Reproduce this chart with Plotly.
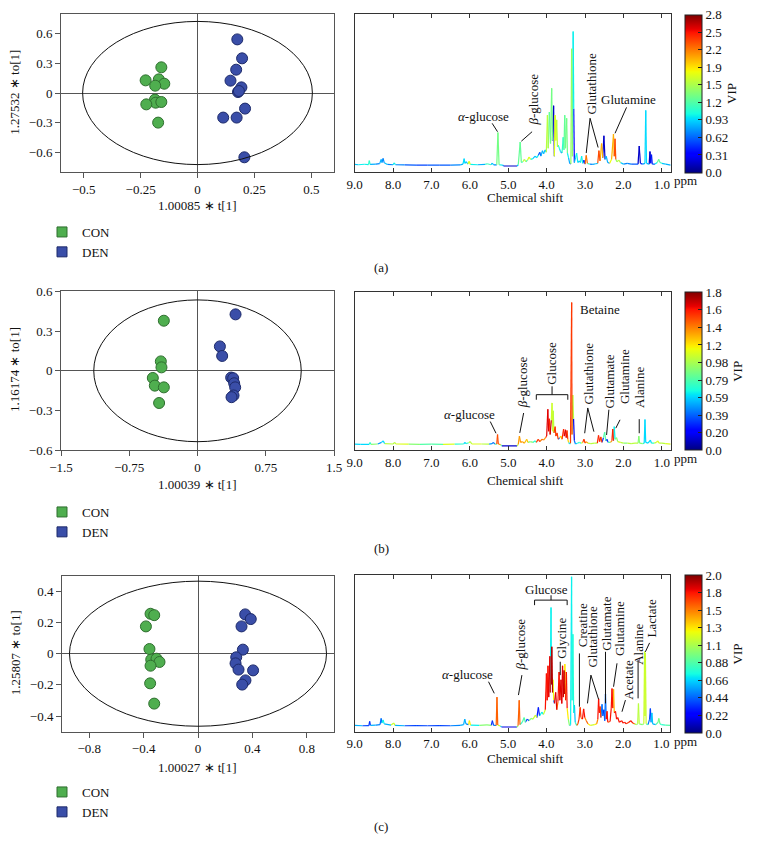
import numpy as np
import plotly.graph_objects as go
from plotly.colors import sample_colorscale

# the page body adds an 8 px margin, so the figure is 8 px smaller and positions are shifted
OFF = 8
W, H = 760 - OFF, 855 - OFF
FONT = "Liberation Serif"
FS = 13


def fx(px):
    return (px - OFF) / W


def fy(py):
    return 1 - (py - OFF) / H


# ---------------- score plot data ----------------
a_con_x = [-0.159, -0.228, -0.170, -0.146, -0.186, -0.187, -0.184, -0.159, -0.225, -0.173]
a_con_y = [0.26, 0.128, 0.138, 0.094, 0.074, -0.067, -0.098, -0.091, -0.115, -0.30]
a_den_x = [0.175, 0.196, 0.170, 0.145, 0.193, 0.178, 0.182, 0.209, 0.113, 0.172, 0.206]
a_den_y = [0.543, 0.351, 0.236, 0.125, 0.057, 0.010, 0.020, -0.158, -0.249, -0.249, -0.651]

b_con_x = [-0.370, -0.403, -0.396, -0.491, -0.469, -0.370, -0.422]
b_con_y = [0.378, 0.071, 0.026, -0.054, -0.112, -0.125, -0.243]
b_den_x = [0.418, 0.246, 0.271, 0.370, 0.392, 0.403, 0.414, 0.396, 0.374]
b_den_y = [0.426, 0.184, 0.112, -0.051, -0.056, -0.094, -0.125, -0.186, -0.199]

c_con_x = [-0.349, -0.322, -0.383, -0.357, -0.344, -0.305, -0.283, -0.349, -0.352, -0.322]
c_con_y = [0.256, 0.247, 0.175, 0.030, -0.038, -0.032, -0.053, -0.077, -0.190, -0.320]
c_den_x = [0.347, 0.388, 0.320, 0.330, 0.281, 0.276, 0.298, 0.405, 0.349, 0.325]
c_den_y = [0.252, 0.222, 0.175, 0.026, -0.023, -0.062, -0.102, -0.107, -0.171, -0.198]

# Hotelling ellipse half-axes (t[1], to[1])
ellipse_a = [0.505, 0.725]
ellipse_b = [1.14, 0.535]
ellipse_c = [0.945, 0.465]

a_xticks = [-0.5, -0.25, 0, 0.25, 0.5]
a_xtext = ["\u22120.5", "\u22120.25", "0", "0.25", "0.5"]
a_yticks = [-0.6, -0.3, 0, 0.3, 0.6]
a_ytext = ["\u22120.6", "\u22120.3", "0", "0.3", "0.6"]
b_xticks = [-1.5, -0.75, 0, 0.75, 1.5]
b_xtext = ["\u22121.5", "\u22120.75", "0", "0.75", "1.5"]
b_yticks = [-0.6, -0.3, 0, 0.3, 0.6]
b_ytext = ["\u22120.6", "\u22120.3", "0", "0.3", "0.6"]
c_xticks = [-0.8, -0.4, 0, 0.4, 0.8]
c_xtext = ["\u22120.8", "\u22120.4", "0", "0.4", "0.8"]
c_yticks = [-0.4, -0.2, 0, 0.2, 0.4]
c_ytext = ["\u22120.4", "\u22120.2", "0", "0.2", "0.4"]

# ---------------- loading spectra (ppm, intensity, VIP) ----------------
a_ppm = [9.00, 8.90, 8.75, 8.64, 8.62, 8.60, 8.45, 8.35, 8.31, 8.29, 8.26, 8.23, 8.15, 8.00, 7.97, 7.94,
         7.70, 7.40, 7.10, 6.80, 6.50, 6.25, 6.18, 6.15, 6.13, 6.10, 6.05, 6.02, 5.99, 5.80, 5.60, 5.55,
         5.45, 5.42, 5.38, 5.30, 5.27, 5.24, 5.15, 5.12, 4.77, 4.74, 4.69, 4.66, 4.62, 4.58, 4.54, 4.50,
         4.46, 4.42, 4.36, 4.30, 4.26, 4.22, 4.18, 4.15, 4.11, 4.08, 4.04, 4.01, 3.98, 3.96, 3.93, 3.90,
         3.87, 3.85, 3.82, 3.80, 3.78, 3.76, 3.74, 3.72, 3.70, 3.67, 3.64, 3.60, 3.57, 3.55, 3.53, 3.51,
         3.48, 3.46, 3.43, 3.40, 3.37, 3.35, 3.33, 3.31, 3.295, 3.28, 3.25, 3.22, 3.19, 3.15, 3.12, 3.09,
         3.06, 3.03, 3.00, 2.97, 2.94, 2.88, 2.80, 2.72, 2.67, 2.64, 2.61, 2.57, 2.54, 2.51, 2.48, 2.45,
         2.41, 2.36, 2.31, 2.26, 2.24, 2.22, 2.20, 2.17, 2.12, 2.08, 2.00, 1.90, 1.80, 1.70, 1.62, 1.59,
         1.56, 1.50, 1.44, 1.42, 1.40, 1.33, 1.31, 1.29, 1.27, 1.25, 1.18, 1.12, 1.08, 1.05, 1.00, 0.90,
         0.77]
a_int = [4.8, 4.6, 4.9, 4.7, 7.2, 4.8, 5.0, 5.3, 8.0, 6.0, 8.6, 5.8, 4.8, 4.6, 5.8, 4.6,
         4.5, 4.4, 4.4, 4.3, 4.4, 4.5, 5.0, 8.5, 5.5, 6.5, 5.0, 6.8, 4.8, 4.6, 4.8, 5.2,
         4.6, 5.6, 4.5, 4.5, 25.0, 4.6, 4.4, 3.8, 3.8, 4.6, 19.0, 6.0, 6.5, 8.0, 6.5, 7.5,
         9.5, 8.0, 8.5, 10.0, 9.0, 10.5, 12.5, 10.0, 13.5, 11.5, 14.0, 12.5, 36.0, 15.0, 38.0, 18.0,
         53.0, 20.0, 42.0, 10.0, 36.0, 20.0, 33.0, 16.0, 17.0, 15.0, 13.0, 12.0, 22.0, 14.0, 36.0, 15.0,
         34.0, 12.0, 9.0, 5.5, 5.0, 78.0, 10.0, 89.0, 40.0, 6.0, 9.0, 12.0, 6.0, 7.0, 6.0, 10.0,
         5.5, 7.5, 5.0, 10.5, 5.5, 5.0, 4.8, 5.2, 5.5, 13.5, 7.0, 18.0, 9.0, 23.0, 8.0, 10.0,
         6.0, 5.5, 8.0, 24.0, 10.0, 21.0, 8.0, 6.5, 7.5, 6.0, 5.0, 5.5, 5.0, 5.0, 5.0, 16.5,
         5.5, 5.0, 5.5, 39.0, 5.5, 5.0, 13.0, 5.5, 11.0, 5.0, 5.0, 6.0, 8.0, 6.0, 5.5, 5.0,
         4.4]
a_vip = [0.9, 0.8, 1.0, 0.9, 1.1, 0.9, 0.8, 0.7, 0.8, 0.9, 0.7, 0.9, 0.7, 0.7, 1.0, 0.7,
         0.6, 0.55, 0.6, 0.55, 0.6, 0.7, 0.8, 0.95, 0.8, 0.9, 0.8, 1.7, 1.0, 0.7, 0.8, 1.2,
         0.7, 0.9, 0.7, 0.9, 1.35, 1.0, 0.7, 0.15, 0.15, 0.9, 1.3, 1.0, 1.1, 1.6, 1.0, 1.2,
         1.7, 1.1, 1.0, 0.9, 1.2, 1.0, 0.6, 1.3, 0.8, 1.0, 0.9, 1.5, 1.6, 1.2, 1.3, 1.0,
         1.35, 1.2, 0.15, 0.2, 1.7, 1.5, 1.6, 1.0, 1.1, 1.0, 0.7, 1.0, 1.1, 1.0, 1.3, 1.1,
         1.35, 1.0, 0.8, 0.5, 0.6, 1.45, 1.0, 1.0, 0.3, 0.6, 0.9, 1.0, 0.8, 0.9, 0.7, 1.0,
         0.8, 0.5, 0.6, 2.2, 1.2, 0.7, 0.7, 0.8, 0.9, 2.3, 1.0, 2.0, 0.9, 0.2, 0.5, 0.8,
         0.7, 0.8, 1.8, 2.0, 1.9, 2.3, 1.5, 1.0, 1.6, 0.9, 0.7, 0.7, 0.6, 0.6, 0.6, 0.15,
         0.5, 0.7, 0.8, 0.95, 0.8, 0.6, 0.2, 0.5, 0.4, 0.6, 0.8, 1.0, 1.3, 1.1, 0.9, 0.8,
         0.9]

b_ppm = [9.00, 8.85, 8.62, 8.60, 8.58, 8.40, 8.30, 8.26, 8.22, 8.00, 7.96, 7.93, 7.60, 7.30, 7.00, 6.70,
         6.40, 6.16, 6.13, 6.10, 6.03, 5.99, 5.95, 5.70, 5.50, 5.42, 5.39, 5.35, 5.30, 5.28, 5.26, 5.20,
         5.17, 4.77, 4.74, 4.71, 4.68, 4.63, 4.58, 4.52, 4.49, 4.42, 4.36, 4.30, 4.27, 4.22, 4.18, 4.12,
         4.08, 4.03, 4.00, 3.97, 3.95, 3.93, 3.91, 3.88, 3.86, 3.84, 3.83, 3.81, 3.78, 3.76, 3.73, 3.70,
         3.66, 3.63, 3.60, 3.56, 3.54, 3.51, 3.49, 3.47, 3.45, 3.43, 3.40, 3.38, 3.35, 3.34, 3.32, 3.30,
         3.28, 3.25, 3.20, 3.15, 3.10, 3.06, 3.03, 3.00, 2.97, 2.93, 2.85, 2.75, 2.68, 2.65, 2.62, 2.59,
         2.56, 2.52, 2.49, 2.46, 2.43, 2.40, 2.34, 2.30, 2.28, 2.26, 2.24, 2.22, 2.18, 2.15, 2.08, 2.00,
         1.90, 1.80, 1.70, 1.62, 1.60, 1.58, 1.50, 1.46, 1.44, 1.42, 1.36, 1.30, 1.27, 1.20, 1.14, 1.11,
         1.07, 1.00, 0.90, 0.77]
b_int = [3.9, 3.7, 3.8, 5.0, 3.8, 4.0, 5.0, 6.0, 4.2, 4.0, 5.0, 4.0, 3.9, 3.8, 3.9, 3.8,
         3.9, 4.0, 5.0, 4.2, 4.8, 5.5, 4.0, 4.0, 3.9, 4.2, 5.0, 3.9, 3.9, 10.0, 4.0, 3.6,
         2.8, 2.8, 3.8, 9.0, 5.0, 5.5, 4.5, 7.0, 5.0, 5.5, 5.0, 6.0, 5.0, 7.0, 5.5, 7.0,
         6.5, 8.0, 9.0, 26.0, 12.0, 20.0, 10.0, 19.0, 30.0, 12.0, 25.0, 11.0, 15.0, 9.0, 11.0, 7.0,
         8.0, 9.0, 7.0, 13.5, 9.0, 13.0, 8.0, 12.5, 7.0, 5.0, 4.0, 4.5, 93.5, 10.0, 35.0, 20.0,
         6.0, 4.0, 4.5, 5.0, 4.5, 5.0, 7.0, 4.5, 5.5, 4.5, 4.2, 4.5, 4.5, 9.5, 5.5, 8.5,
         5.0, 8.0, 11.5, 6.0, 7.0, 5.0, 5.0, 6.0, 13.5, 6.0, 15.0, 7.0, 8.0, 5.5, 5.0, 4.5,
         4.5, 4.2, 4.5, 4.5, 9.0, 4.5, 4.2, 4.5, 19.5, 5.0, 4.5, 6.5, 4.5, 4.5, 5.0, 6.0,
         4.5, 4.5, 4.2, 3.9]
b_vip = [0.6, 0.9, 0.6, 0.7, 1.0, 0.9, 0.5, 0.6, 1.0, 0.9, 1.0, 1.1, 0.9, 1.1, 0.8, 1.0,
         1.1, 0.7, 0.6, 0.8, 0.7, 1.0, 1.1, 1.0, 0.9, 0.5, 0.4, 0.8, 1.2, 1.45, 1.3, 0.8,
         0.1, 0.1, 1.0, 1.3, 1.2, 1.3, 1.1, 1.25, 1.0, 0.9, 1.1, 0.7, 0.4, 1.5, 1.2, 1.4,
         0.5, 1.3, 1.5, 1.6, 1.5, 1.55, 1.4, 1.65, 1.05, 1.0, 1.0, 0.6, 1.5, 1.3, 1.5, 1.1,
         0.4, 1.2, 0.5, 1.55, 1.4, 1.6, 1.5, 1.5, 1.2, 0.6, 0.3, 0.7, 1.5, 1.2, 1.0, 0.15,
         0.4, 0.5, 0.6, 0.7, 0.9, 1.1, 1.5, 1.0, 1.3, 1.0, 0.9, 1.0, 1.1, 1.55, 1.4, 1.5,
         1.0, 0.3, 0.8, 0.4, 0.3, 0.8, 1.0, 1.3, 1.55, 1.2, 0.65, 0.8, 0.9, 1.1, 1.0, 0.9,
         1.0, 0.8, 1.0, 0.9, 0.9, 0.9, 0.8, 0.7, 0.6, 0.6, 0.8, 0.6, 0.7, 0.9, 1.0, 1.1,
         1.0, 1.0, 1.1, 1.0]

c_ppm = [9.00, 8.80, 8.63, 8.61, 8.59, 8.45, 8.34, 8.31, 8.29, 8.26, 8.23, 8.05, 7.98, 7.95, 7.70, 7.40,
         7.10, 6.80, 6.50, 6.25, 6.16, 6.13, 6.10, 6.03, 6.01, 5.98, 5.75, 5.55, 5.44, 5.41, 5.38, 5.31,
         5.29, 5.27, 5.20, 5.17, 4.77, 4.74, 4.71, 4.69, 4.63, 4.58, 4.55, 4.50, 4.45, 4.40, 4.35, 4.29,
         4.25, 4.21, 4.18, 4.12, 4.08, 4.03, 4.00, 3.98, 3.96, 3.94, 3.91, 3.90, 3.88, 3.87, 3.86, 3.84,
         3.83, 3.81, 3.79, 3.76, 3.73, 3.70, 3.67, 3.65, 3.62, 3.60, 3.58, 3.56, 3.54, 3.53, 3.52, 3.50,
         3.48, 3.46, 3.43, 3.40, 3.37, 3.345, 3.33, 3.31, 3.29, 3.27, 3.25, 3.21, 3.18, 3.15, 3.12, 3.10,
         3.06, 3.03, 3.00, 2.96, 2.92, 2.85, 2.75, 2.69, 2.66, 2.64, 2.62, 2.60, 2.58, 2.55, 2.53, 2.50,
         2.48, 2.46, 2.44, 2.42, 2.40, 2.34, 2.31, 2.29, 2.27, 2.25, 2.23, 2.20, 2.17, 2.14, 2.10, 2.04,
         2.00, 1.96, 1.92, 1.85, 1.80, 1.75, 1.70, 1.65, 1.62, 1.60, 1.58, 1.50, 1.46, 1.44, 1.43, 1.42,
         1.40, 1.35, 1.31, 1.29, 1.27, 1.25, 1.23, 1.15, 1.09, 1.07, 1.04, 1.00, 0.90, 0.77]
c_int = [4.0, 3.8, 3.9, 6.5, 4.0, 4.2, 4.5, 8.5, 5.5, 7.5, 5.0, 4.2, 5.5, 4.0, 3.8, 3.9,
         3.8, 3.9, 3.8, 4.0, 4.5, 8.0, 5.0, 4.5, 7.0, 4.2, 4.0, 4.3, 4.0, 7.0, 4.0, 4.0,
         22.0, 4.2, 3.6, 3.0, 3.0, 3.8, 20.0, 4.5, 6.0, 9.0, 6.0, 8.0, 7.0, 8.5, 8.0, 10.5,
         9.0, 15.5, 10.0, 12.5, 11.0, 14.0, 37.0, 20.0, 42.0, 22.0, 48.0, 25.0, 79.0, 30.0, 54.0, 25.0,
         33.0, 20.0, 18.0, 25.0, 14.0, 19.0, 38.0, 20.0, 33.0, 18.0, 42.0, 22.0, 39.0, 24.0, 43.0, 20.0,
         38.0, 15.0, 8.0, 4.0, 4.5, 98.5, 20.0, 62.0, 12.0, 17.0, 6.0, 4.0, 5.0, 8.0, 15.5, 9.0,
         8.0, 14.5, 9.0, 7.0, 5.0, 4.0, 4.5, 5.0, 8.0, 21.0, 12.0, 16.0, 9.0, 17.5, 10.0, 14.0,
         7.0, 24.0, 8.0, 13.0, 6.0, 6.5, 15.0, 27.5, 15.0, 27.0, 12.0, 13.0, 8.0, 9.0, 6.0, 7.0,
         5.5, 6.0, 5.0, 6.0, 7.0, 5.5, 5.0, 4.5, 5.0, 18.0, 5.0, 4.5, 5.0, 51.0, 10.0, 50.0,
         5.0, 4.5, 8.0, 14.8, 6.0, 12.0, 5.0, 4.5, 6.0, 8.5, 5.0, 4.5, 4.2, 4.0]
c_vip = [0.6, 0.5, 0.4, 0.35, 0.5, 0.6, 0.5, 0.45, 0.6, 0.7, 0.6, 0.6, 1.2, 0.6, 0.5, 0.4,
         0.45, 0.4, 0.45, 0.5, 0.6, 0.6, 0.5, 1.0, 1.3, 0.7, 0.6, 1.0, 0.4, 0.35, 0.5, 1.2,
         1.6, 1.2, 0.6, 0.15, 0.15, 1.0, 1.6, 1.2, 0.8, 0.9, 0.7, 0.4, 0.5, 1.0, 0.8, 1.2,
         0.5, 0.3, 0.6, 0.7, 0.9, 1.2, 1.75, 1.6, 1.75, 1.5, 1.8, 1.4, 0.7, 1.2, 1.9, 1.5,
         1.25, 0.4, 1.0, 1.8, 1.4, 1.6, 1.75, 1.5, 1.8, 1.4, 1.8, 1.6, 1.85, 1.4, 1.3, 1.5,
         1.75, 1.3, 1.0, 0.35, 0.6, 0.7, 0.7, 0.75, 0.7, 0.65, 0.8, 1.0, 1.6, 1.7, 1.7, 1.6,
         1.6, 1.75, 1.5, 1.6, 1.3, 0.9, 1.2, 1.3, 1.5, 1.75, 1.6, 1.7, 1.0, 0.45, 0.4, 0.35,
         0.5, 0.45, 1.0, 1.75, 1.5, 1.6, 1.75, 1.75, 1.5, 1.45, 1.6, 1.75, 1.7, 1.75, 1.6, 1.75,
         1.7, 1.75, 1.6, 1.7, 1.75, 1.6, 1.1, 0.9, 1.0, 1.15, 1.0, 0.9, 1.0, 1.2, 1.2, 1.2,
         0.9, 0.8, 0.45, 0.4, 0.5, 0.65, 0.6, 0.8, 0.9, 0.95, 0.8, 0.8, 0.9, 0.9]

ppm_ticks = [9, 8, 7, 6, 5, 4, 3, 2, 1]
ppm_text = ["9.0", "8.0", "7.0", "6.0", "5.0", "4.0", "3.0", "2.0", "1.0"]

a_vip_max = 2.78
a_cbar_text = ["0.0", "0.31", "0.62", "0.93", "1.2", "1.5", "1.9", "2.2", "2.5", "2.8"]
b_vip_max = 1.767
b_cbar_text = ["0.0", "0.20", "0.39", "0.59", "0.79", "0.98", "1.2", "1.4", "1.6", "1.8"]
c_vip_max = 1.98
c_cbar_text = ["0.0", "0.22", "0.44", "0.66", "0.88", "1.1", "1.3", "1.5", "1.8", "2.0"]

# ---------------- jet colour scale ----------------
JET_R = [(0, 0), (0.35, 0), (0.66, 1), (0.89, 1), (1, 0.5)]
JET_G = [(0, 0), (0.125, 0), (0.375, 1), (0.64, 1), (0.91, 0), (1, 0)]
JET_B = [(0, 0.5), (0.11, 1), (0.34, 1), (0.65, 0), (1, 0)]


def _ch(pts, t):
    return float(np.interp(t, [p[0] for p in pts], [p[1] for p in pts]))


_stops = sorted(set(p[0] for p in JET_R + JET_G + JET_B))
JET = [[s, "rgb(%d,%d,%d)" % tuple(int(round(255 * _ch(c, s))) for c in (JET_R, JET_G, JET_B))]
       for s in _stops]

GREEN, GREEN_EDGE = "#4fae4f", "#2f6f2f"
BLUE, BLUE_EDGE = "#3a4ea8", "#1d2a6a"
AX = "#555555"

fig = go.Figure()


def add_scores(xa, ya, cx, cy, dx, dy, leg):
    fig.add_trace(go.Scatter(x=cx, y=cy, mode="markers", xaxis=xa, yaxis=ya, showlegend=False,
                             marker=dict(size=11, color=GREEN, line=dict(color=GREEN_EDGE, width=1))))
    fig.add_trace(go.Scatter(x=dx, y=dy, mode="markers", xaxis=xa, yaxis=ya, showlegend=False,
                             marker=dict(size=11, color=BLUE, line=dict(color=BLUE_EDGE, width=1))))
    for name, col, edge in (("CON", GREEN, GREEN_EDGE), ("DEN", BLUE, BLUE_EDGE)):
        fig.add_trace(go.Scatter(x=[None], y=[None], mode="markers", xaxis=xa, yaxis=ya, name=name,
                                 legend=leg, showlegend=True,
                                 marker=dict(symbol="square", size=10, color=col,
                                             line=dict(color=edge, width=1))))


def add_spectrum(xa, ya, ppm, inten, vip, cmax, ctext, cb_x, cb_mid, nb=48):
    groups = {}
    for i in range(len(ppm) - 1):
        v = vip[i] if inten[i] >= inten[i + 1] else vip[i + 1]
        b = int(round(min(max(v / cmax, 0), 1) * (nb - 1)))
        g = groups.setdefault(b, ([], []))
        g[0].extend([ppm[i], ppm[i + 1], None])
        g[1].extend([inten[i], inten[i + 1], None])
    for b, (xs, ys) in sorted(groups.items()):
        col = sample_colorscale(JET, [b / (nb - 1)])[0]
        fig.add_trace(go.Scatter(x=xs, y=ys, mode="lines", xaxis=xa, yaxis=ya, showlegend=False,
                                 hoverinfo="skip", line=dict(color=col, width=1.2)))
    n = len(ctext)
    tv = [round(cmax * i / (n - 1), 6) for i in range(n)]
    tv[-1] = cmax * 0.9999
    fig.add_trace(go.Scatter(
        x=[20], y=[-500], mode="markers", xaxis=xa, yaxis=ya, showlegend=False, hoverinfo="skip",
        marker=dict(color=[0], cmin=0, cmax=cmax, colorscale=JET, showscale=True, size=1,
                    colorbar=dict(x=fx(cb_x), xanchor="left", y=fy(cb_mid), yanchor="middle",
                                  len=158, lenmode="pixels", thickness=17, thicknessmode="pixels",
                                  xpad=0, ypad=0, outlinewidth=1, outlinecolor="#222",
                                  tickmode="array", tickvals=tv, ticktext=ctext,
                                  ticks="inside", ticklen=4, tickcolor="#222",
                                  ticklabeloverflow="allow",
                                  tickfont=dict(family=FONT, size=13, color="#111"),
                                  title=dict(text="VIP", side="right",
                                             font=dict(family=FONT, size=13, color="#111"))))))


add_scores("x", "y", a_con_x, a_con_y, a_den_x, a_den_y, "legend")
add_scores("x3", "y3", b_con_x, b_con_y, b_den_x, b_den_y, "legend2")
add_scores("x5", "y5", c_con_x, c_con_y, c_den_x, c_den_y, "legend3")
add_spectrum("x2", "y2", a_ppm, a_int, a_vip, a_vip_max, a_cbar_text, 685, 93.5)
add_spectrum("x4", "y4", b_ppm, b_int, b_vip, b_vip_max, b_cbar_text, 685, 371.3)
add_spectrum("x6", "y6", c_ppm, c_int, c_vip, c_vip_max, c_cbar_text, 684.5, 654)

tf = dict(family=FONT, size=FS, color="#111")


def score_axes(n, anchor, xl, xr, yt, yb, xrng, yrng, xtv, xtt, ytv, ytt):
    sx = "" if n == 1 else str(n)
    sa = "" if anchor == 1 else str(anchor)
    common = dict(showgrid=False, showline=True, mirror=True, linecolor=AX, linewidth=1,
                  zeroline=True, zerolinecolor=AX, zerolinewidth=1.2, ticks="outside",
                  ticklen=5, tickcolor=AX, tickfont=tf, tickmode="array", fixedrange=True)
    fig.layout["xaxis" + sx] = dict(common, domain=[fx(xl), fx(xr)], range=xrng, tickvals=xtv,
                                    ticktext=xtt, anchor="y" + sa)
    fig.layout["yaxis" + sx] = dict(common, domain=[fy(yb), fy(yt)], range=yrng, tickvals=ytv,
                                    ticktext=ytt, anchor="x" + sa)


def spec_axes(n, xl, xr, yt, yb):
    sx = str(n)
    fig.layout["xaxis" + sx] = dict(domain=[fx(xl), fx(xr)], range=[9.0, 0.77], tickmode="array",
                                    tickvals=ppm_ticks, ticktext=ppm_text, ticks="inside", ticklen=4,
                                    tickcolor="#333", showline=True, mirror="ticks", linecolor="#333",
                                    linewidth=1, showgrid=False, zeroline=False, tickfont=tf,
                                    anchor="y" + sx)
    fig.layout["yaxis" + sx] = dict(domain=[fy(yb), fy(yt)], range=[0, 100], showticklabels=False,
                                    ticks="", showline=True, mirror=True, linecolor="#333",
                                    linewidth=1, showgrid=False, zeroline=False, anchor="x" + sx)


score_axes(1, 1, 61, 334, 14, 172, [-0.6, 0.6], [-0.8, 0.8], a_xticks, a_xtext, a_yticks, a_ytext)
score_axes(3, 3, 61, 334, 291.3, 450.3, [-1.5, 1.5], [-0.6, 0.6], b_xticks, b_xtext, b_yticks, b_ytext)
score_axes(5, 5, 62, 334, 575.7, 731.7, [-1.0, 1.0], [-0.5, 0.5], c_xticks, c_xtext, c_yticks, c_ytext)
spec_axes(2, 354.7, 670.7, 14, 172)
spec_axes(4, 354.7, 670.7, 292.3, 450.3)
spec_axes(6, 354.7, 670.3, 574.5, 731.7)

# ellipses
shapes = []
for (xa, ya), (ea, eb) in ((("x", "y"), ellipse_a), (("x3", "y3"), ellipse_b), (("x5", "y5"), ellipse_c)):
    shapes.append(dict(type="circle", xref=xa, yref=ya, x0=-ea, x1=ea, y0=-eb, y1=eb,
                       line=dict(color="#111", width=1)))

annotations = []


def ptext(text, px, py, size=FS, angle=0, xanchor="center"):
    annotations.append(dict(text=text, x=fx(px), y=fy(py), xref="paper", yref="paper",
                            showarrow=False, xanchor=xanchor, yanchor="middle", textangle=angle,
                            font=dict(family=FONT, size=size, color="#111")))


# axis titles
ptext("1.00085 \u2217 t[1]", 197.3, 205)
ptext("1.27532 \u2217 to[1]", 15, 92.7, angle=-90)
ptext("1.00039 \u2217 t[1]", 197.3, 484)
ptext("1.16174 \u2217 to[1]", 15, 370, angle=-90)
ptext("1.00027 \u2217 t[1]", 197.3, 767)
ptext("1.25807 \u2217 to[1]", 15, 653.3, angle=-90)
for cy, py in ((197.7, 180), (480.7, 458.3), (758.3, 741)):
    ptext("Chemical shift", 525, cy)
    ptext("ppm", 672, py, xanchor="left")
ptext("(a)", 381, 267)
ptext("(b)", 381, 548)
ptext("(c)", 381, 826)


def label(xa, ya, text, x, y, angle=0, xanchor="center"):
    annotations.append(dict(text=text, x=x, y=y, xref=xa, yref=ya, showarrow=False,
                            textangle=angle, xanchor=xanchor, yanchor="middle",
                            font=dict(family=FONT, size=FS, color="#111")))


def lead(xa, ya, x0, y0, x1, y1):
    shapes.append(dict(type="line", xref=xa, yref=ya, x0=x0, y0=y0, x1=x1, y1=y1,
                       line=dict(color="#111", width=1)))


def bracket(xa, ya, xl, xr, xm, yb, yt, ytop):
    shapes.append(dict(type="path", xref=xa, yref=ya,
                       path="M %g,%g L %g,%g L %g,%g L %g,%g M %g,%g L %g,%g" %
                            (xl, yb, xl, yt, xr, yt, xr, yb, xm, yt, xm, ytop),
                       line=dict(color="#111", width=1)))


# panel (a) metabolite labels
label("x2", "y2", "<i>\u03b1</i>-glucose", 5.64, 35.0)
lead("x2", "y2", 5.42, 30.8, 5.28, 25.5)
label("x2", "y2", "<i>\u03b2</i>-glucose", 4.35, 46.0, angle=-90)
lead("x2", "y2", 4.38, 25.5, 4.66, 19.5)
label("x2", "y2", "Glutathione", 2.84, 56.1, angle=-90)
lead("x2", "y2", 2.87, 34.0, 2.97, 12.0)
lead("x2", "y2", 2.87, 34.0, 2.66, 15.5)
label("x2", "y2", "Glutamine", 1.86, 45.6)
lead("x2", "y2", 1.92, 40.9, 2.22, 24.5)

# panel (b)
label("x4", "y4", "Betaine", 3.18, 88.9, xanchor="left")
label("x4", "y4", "<i>\u03b1</i>-glucose", 6.01, 22.9)
lead("x4", "y4", 5.47, 18.2, 5.32, 10.8)
label("x4", "y4", "<i>\u03b2</i>-glucose", 4.64, 43.1, angle=-90)
lead("x4", "y4", 4.60, 23.6, 4.70, 11.0)
label("x4", "y4", "Glucose", 3.86, 54.8, angle=-90)
bracket("x4", "y4", 4.27, 3.45, 3.86, 32.0, 35.2, 40.5)
label("x4", "y4", "Glutathione", 2.90, 48.6, angle=-90)
lead("x4", "y4", 2.93, 26.8, 3.01, 10.8)
lead("x4", "y4", 2.93, 26.8, 2.77, 11.8)
label("x4", "y4", "Glutamate", 2.37, 43.7, angle=-90)
lead("x4", "y4", 2.38, 25.7, 2.44, 9.7)
label("x4", "y4", "Glutamine", 1.99, 46.9, angle=-90)
lead("x4", "y4", 2.09, 19.3, 2.20, 14.0)
label("x4", "y4", "Alanine", 1.57, 40.1, angle=-90)
lead("x4", "y4", 1.59, 19.7, 1.59, 10.8)

# panel (c)
label("x6", "y6", "Glucose", 3.99, 90.5)
bracket("x6", "y6", 4.31, 3.46, 3.88, 80.5, 83.7, 86.8)
label("x6", "y6", "<i>\u03b1</i>-glucose", 6.06, 36.7)
lead("x6", "y6", 5.51, 31.8, 5.36, 24.4)
label("x6", "y6", "<i>\u03b2</i>-glucose", 4.68, 55.7, angle=-90)
lead("x6", "y6", 4.64, 36.0, 4.73, 23.3)
label("x6", "y6", "Glycine", 3.61, 59.3, angle=-90)
lead("x6", "y6", 3.64, 44.5, 3.64, 36.0)
label("x6", "y6", "Creatine", 3.07, 67.8, angle=-90)
lead("x6", "y6", 3.14, 49.8, 3.14, 15.9)
label("x6", "y6", "Glutathione", 2.79, 60.4, angle=-90)
lead("x6", "y6", 2.84, 36.0, 2.93, 18.0)
lead("x6", "y6", 2.84, 36.0, 2.64, 20.6)
label("x6", "y6", "Glutamate", 2.44, 68.9, angle=-90)
lead("x6", "y6", 2.46, 50.8, 2.46, 18.0)
label("x6", "y6", "Glutamine", 2.09, 65.7, angle=-90)
lead("x6", "y6", 2.16, 43.5, 2.25, 28.6)
label("x6", "y6", "Acetate", 1.88, 32.8, angle=-90)
lead("x6", "y6", 1.94, 20.1, 2.03, 12.7)
label("x6", "y6", "Alanine", 1.62, 55.7, angle=-90)
lead("x6", "y6", 1.61, 45.6, 1.61, 21.2)
label("x6", "y6", "Lactate", 1.25, 72.0, angle=-90)
lead("x6", "y6", 1.31, 56.5, 1.42, 50.8)

leg_common = dict(xanchor="left", yanchor="top", bgcolor="rgba(0,0,0,0)", borderwidth=0,
                  font=dict(family=FONT, size=FS, color="#111"), tracegroupgap=0,
                  itemclick=False, itemdoubleclick=False)

fig.update_layout(
    width=W, height=H, margin=dict(l=0, r=0, t=0, b=0, autoexpand=False),
    paper_bgcolor="white", plot_bgcolor="white",
    font=dict(family=FONT, size=FS, color="#111"),
    shapes=shapes, annotations=annotations, hovermode=False,
    legend=dict(leg_common, x=fx(42), y=fy(217)),
    legend2=dict(leg_common, x=fx(42), y=fy(497)),
    legend3=dict(leg_common, x=fx(42), y=fy(777)),
)

fig.write_html("out.html")
